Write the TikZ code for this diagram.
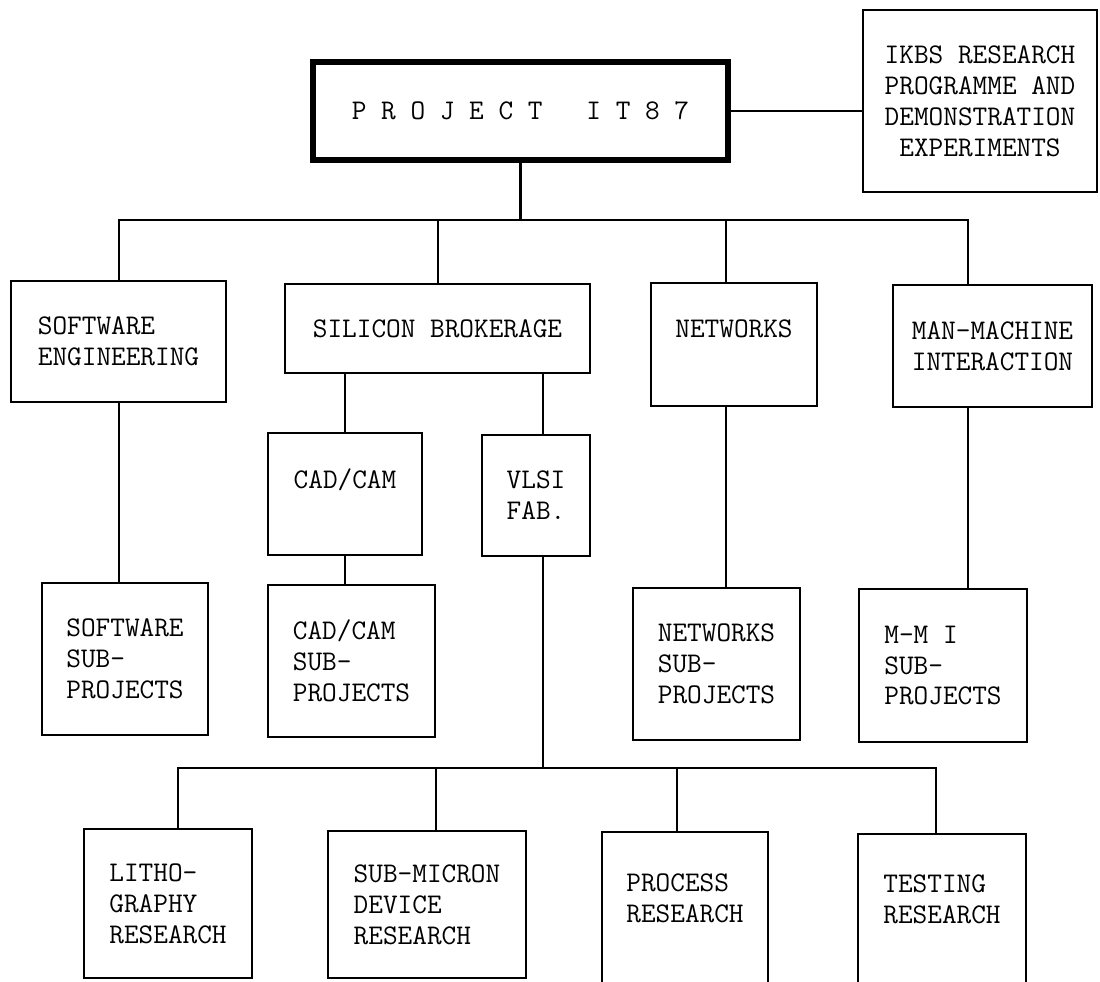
\documentclass[tikz,border=0pt]{standalone}
\usepackage{fontspec}
\usepackage{tikz}

\tikzset{
  unit/.style={draw, line width=1.6pt, align=left, inner sep=0pt,
    font=\ttfamily\fontsize{16.2pt}{17.6pt}\selectfont},
  wh/.style 2 args={minimum width=#1*0.2mm, minimum height=#2*0.2mm},
  link/.style={line width=1.6pt},
}

\begin{document}
\begin{tikzpicture}[x=0.2mm,y=-0.2mm]
\useasboundingbox (0,0) rectangle (1100,981);

\node[unit,wh={415}{98},line width=3.8pt] (title) at (520.5,111) {P~R~O~J~E~C~T~~~I~T~8~7};
\node[unit,wh={234}{182},align=center] (ikbs) at (980,101) {IKBS RESEARCH\\PROGRAMME AND\\DEMONSTRATION\\EXPERIMENTS};

\node[unit,wh={215}{121}] (softeng) at (118.5,341.5) {SOFTWARE\\ENGINEERING};
\node[unit,wh={305}{89}] (silicon) at (437.5,328.5) {SILICON BROKERAGE};
\node[unit,wh={166}{123}] (networks) at (734,344.5) {NETWORKS\\~};
\node[unit,wh={199}{122}] (mmi) at (992.5,346) {MAN-MACHINE\\INTERACTION};

\node[unit,wh={154}{122}] (cadcam) at (345,494) {CAD/CAM\\~};
\node[unit,wh={108}{121}] (vlsi) at (536,495.5) {VLSI\\FAB.};

\node[unit,wh={166}{152}] (swsub) at (125,659) {SOFTWARE\\SUB-\\PROJECTS};
\node[unit,wh={167}{152}] (cadsub) at (351.5,661) {CAD/CAM\\SUB-\\PROJECTS};
\node[unit,wh={167}{152}] (netsub) at (716.5,664) {NETWORKS\\SUB-\\PROJECTS};
\node[unit,wh={168}{153}] (mmisub) at (943,665.5) {M-M I\\SUB-\\PROJECTS};

\node[unit,wh={168}{149}] (litho) at (168,903.5) {LITHO-\\GRAPHY\\RESEARCH};
\node[unit,wh={198}{147}] (submicron) at (427,904.5) {SUB-MICRON\\DEVICE\\RESEARCH};
\node[unit,wh={166}{163}] (process) at (685,913.5) {PROCESS\\RESEARCH\\~};
\node[unit,wh={168}{161}] (testing) at (942,914.5) {TESTING\\RESEARCH\\~};

% top level
\draw[link] (title.east) -- (title.east -| ikbs.west);
\coordinate (b1) at (119,220);
\coordinate (b2) at (438,220);
\coordinate (b3) at (726,220);
\coordinate (b4) at (968,220);
\draw[link] (title.south) -- (title.south |- b1);
\draw[link] (b1 |- softeng.north) -- (b1) -- (b4) -- (b4 |- mmi.north);
\draw[link] (b2) -- (b2 |- silicon.north);
\draw[link] (b3) -- (b3 |- networks.north);

% second level
\draw[link] (b1 |- softeng.south) -- (b1 |- swsub.north);
\draw[link] (b3 |- networks.south) -- (b3 |- netsub.north);
\draw[link] (b4 |- mmi.south) -- (b4 |- mmisub.north);
\draw[link] (cadcam.north |- silicon.south) -- (cadcam.north);
\draw[link] (cadcam.south) -- (cadcam.south |- cadsub.north);

% vlsi branch
\coordinate (v) at (543,768);
\coordinate (l1) at (178,768);
\coordinate (l2) at (436,768);
\coordinate (l3) at (677,768);
\coordinate (l4) at (936,768);
\draw[link] (v |- silicon.south) -- (v |- vlsi.north);
\draw[link] (v |- vlsi.south) -- (v);
\draw[link] (l1 |- litho.north) -- (l1) -- (l4) -- (l4 |- testing.north);
\draw[link] (l2) -- (l2 |- submicron.north);
\draw[link] (l3) -- (l3 |- process.north);
\end{tikzpicture}
\end{document}
